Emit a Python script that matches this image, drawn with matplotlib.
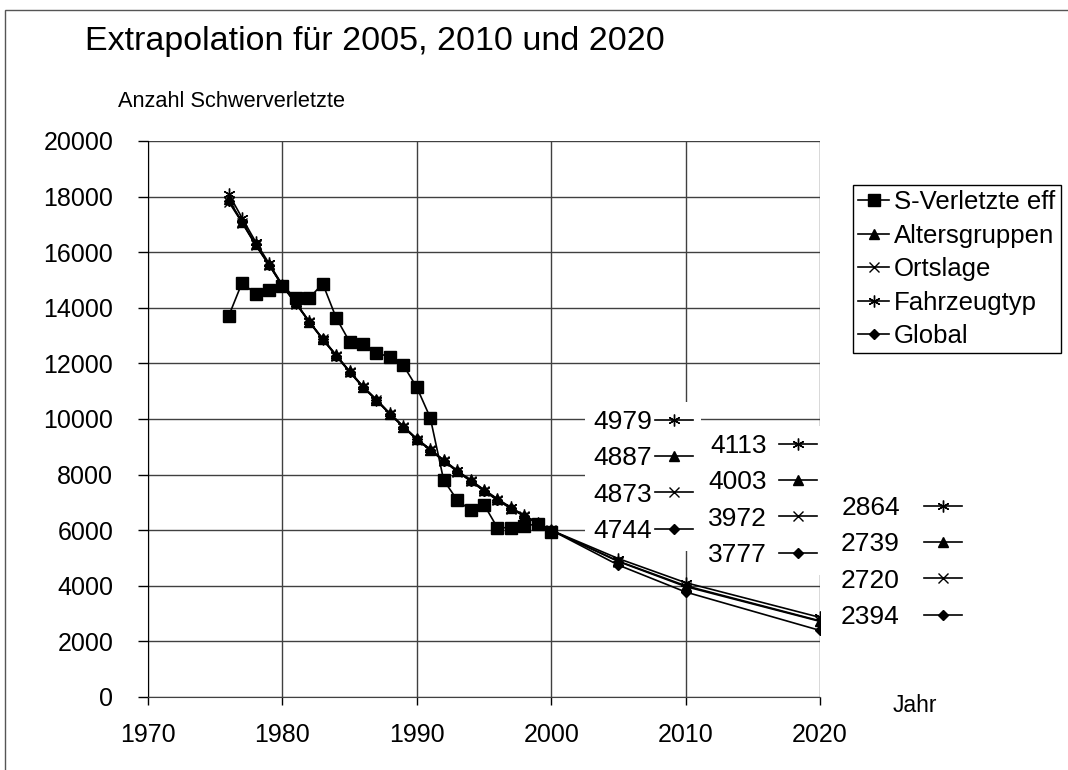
import matplotlib
matplotlib.use('Agg')
import matplotlib.pyplot as plt
from matplotlib.patches import Rectangle

plt.rcParams['font.family'] = ['Liberation Sans', 'DejaVu Sans']

# Daten
jahre_ist = list(range(1976, 2001))
s_verletzte = [13700, 14900, 14500, 14650, 14800, 14350, 14350, 14870, 13640, 12780,
               12710, 12390, 12220, 11930, 11140, 10050, 7800, 7090, 6720, 6920,
               6090, 6090, 6150, 6230, 5950]

jahre_modell = list(range(1976, 2001)) + [2005, 2010, 2020]
altersgruppen = [17900, 17080, 16290, 15560, 14800, 14160, 13500, 12880, 12290, 11710,
                 11160, 10690, 10190, 9730, 9280, 8900, 8510, 8140, 7790, 7440,
                 7110, 6800, 6520, 6260, 6000, 4887, 4003, 2739]
ortslage = [17820, 17060, 16260, 15540, 14790, 14150, 13490, 12860, 12270, 11690,
            11140, 10670, 10170, 9710, 9260, 8880, 8490, 8110, 7770, 7410,
            7080, 6780, 6500, 6240, 6000, 4873, 3972, 2720]
fahrzeugtyp = [18100, 17230, 16380, 15600, 14820, 14180, 13510, 12890, 12300, 11720,
               11170, 10700, 10200, 9740, 9290, 8910, 8520, 8150, 7800, 7460,
               7130, 6820, 6530, 6270, 6000, 4979, 4113, 2864]
global_ = [17850, 17100, 16280, 15550, 14800, 14170, 13500, 12870, 12280, 11700,
           11150, 10680, 10180, 9720, 9270, 8890, 8500, 8120, 7780, 7420,
           7090, 6790, 6510, 6250, 6000, 4744, 3777, 2394]

fig = plt.figure(figsize=(10.68, 7.7), dpi=100)
ax = fig.add_axes([148 / 1068, 1 - 697 / 770, 672 / 1068, 556 / 770])

# Rahmen um das Diagramm
fig.patches.append(Rectangle((5 / 1068, -0.1), 1.2, 1.1 - 10 / 770, transform=fig.transFigure,
                             fill=False, edgecolor='#555555', linewidth=1))

kw = dict(color='black', linewidth=1.2, zorder=3)
l_s, = ax.plot(jahre_ist, s_verletzte, marker='s', markersize=8, label='S-Verletzte eff', **kw)
l_a, = ax.plot(jahre_modell, altersgruppen, marker='^', markersize=7, label='Altersgruppen', **kw)
l_o, = ax.plot(jahre_modell, ortslage, marker='x', markersize=6.5, markeredgewidth=1, label='Ortslage', **kw)
l_f, = ax.plot(jahre_modell, fahrzeugtyp, marker=(6, 2, 0), markersize=8.5, markeredgewidth=1,
               label='Fahrzeugtyp', **kw)
l_g, = ax.plot(jahre_modell, global_, marker='D', markersize=5.5, label='Global', **kw)

ax.set_xlim(1970, 2020)
ax.set_ylim(0, 20000)
ax.set_xticks(range(1970, 2021, 10))
ax.set_yticks(range(0, 20001, 2000))
ax.grid(True, color='#404040', linewidth=1)
ax.set_axisbelow(True)
for s in ['top', 'right']:
    ax.spines[s].set_visible(False)
ax.spines['left'].set_color('black')
ax.spines['bottom'].set_color('#404040')
ax.tick_params(axis='y', length=7, width=1, pad=18, labelsize=18)
ax.tick_params(axis='x', length=6, width=1, pad=13, labelsize=18)

fig.text(85 / 1068, 1 - 50 / 770, 'Extrapolation für 2005, 2010 und 2020', fontsize=24.5, va='baseline')
fig.text(118 / 1068, 1 - 107 / 770, 'Anzahl Schwerverletzte', fontsize=15.7, va='baseline')
fig.text(893 / 1068, 1 - 706 / 770, 'Jahr', fontsize=16.5, va='center')

# Hauptlegende
leg = fig.legend(handles=[l_s, l_a, l_o, l_f, l_g], loc='upper left',
                 bbox_to_anchor=(853 / 1068, 1 - 185 / 770), fontsize=18.5,
                 fancybox=False, edgecolor='black', framealpha=1, handlelength=1.2,
                 handletextpad=0.2, labelspacing=0.37, borderpad=0.2, borderaxespad=0)
leg.get_frame().set_linewidth(1)

# Datenbeschriftungen fuer 2005, 2010, 2020 (unter den Linien, ueber dem Gitter)
reihen = [l_f, l_a, l_o, l_g]
werte = [fahrzeugtyp, altersgruppen, ortslage, global_]
gruppen = [(2005, 585, 402, 0.12), (2010, 700, 426, 0.45), (2020, 833, 488, 0.9)]
for jahr, gx, gy, pad in gruppen:
    i = jahre_modell.index(jahr)
    lg = ax.legend(handles=reihen, labels=[f'{w[i]:.0f}' for w in werte], loc='upper left',
                   bbox_to_anchor=(gx / 1068, 1 - gy / 770), bbox_transform=fig.transFigure,
                   fontsize=19, markerfirst=False,
                   frameon=True, framealpha=1, facecolor='white', edgecolor='none',
                   handlelength=1.45, handletextpad=pad, labelspacing=0.47,
                   borderpad=0.3, borderaxespad=0)
    lg.set_zorder(2)
    ax.add_artist(lg)

fig.savefig('out.png', dpi=100)
